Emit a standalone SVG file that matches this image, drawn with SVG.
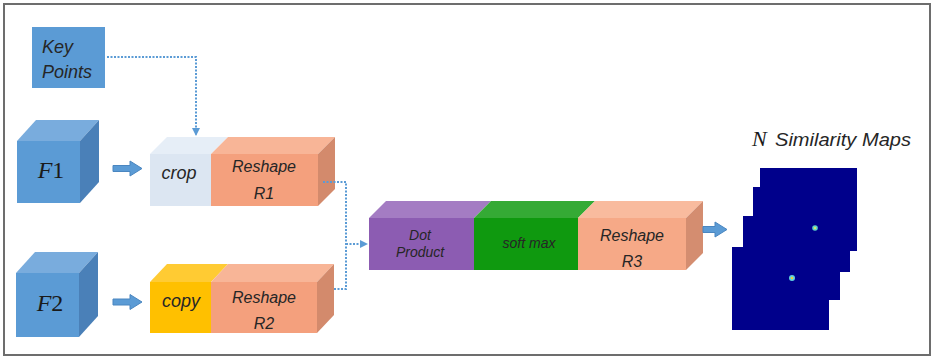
<svg xmlns="http://www.w3.org/2000/svg" width="934" height="357" viewBox="0 0 934 357">
  <style>
    .lbl { font-family: "Liberation Sans", Arial, sans-serif; font-style: italic; fill: #262626; text-anchor: middle; }
    .lft { text-anchor: start; }
    .math { font-family: "Liberation Serif", "DejaVu Serif", serif; fill: #1a1a1a; text-anchor: middle; }
    .it { font-style: italic; }
    .dot { fill: none; stroke: #5b9bd5; stroke-width: 2; stroke-dasharray: 2 1.5; }
    .blk { fill: #5b9bd5; stroke: #4a86c0; stroke-width: 1; }
    .map { fill: #00008b; }
  </style>
  <defs>
    <marker id="tri" markerWidth="8" markerHeight="8" refX="7" refY="4" orient="auto" markerUnits="userSpaceOnUse">
      <path d="M0,0 L8,4 L0,8 Z" fill="#5b9bd5"/>
    </marker>
  </defs>

  <rect x="0" y="0" width="934" height="357" fill="#ffffff"/>
  <rect x="4" y="4" width="926" height="351" fill="none" stroke="#6d6d6d" stroke-width="2"/>

  <!-- key points box -->
  <g id="keypoints">
    <rect x="32" y="27" width="73" height="61" fill="#5b9bd5"/>
    <text class="lbl lft" x="42" y="53" font-size="18">Key</text>
    <text class="lbl lft" x="42" y="78" font-size="18">Points</text>
  </g>

  <!-- input feature cubes -->
  <g id="f1">
    <path d="M17,141 L36,120 L99,120 L80,141 Z" fill="#79acdd"/>
    <path d="M80,141 L99,120 L99,182 L80,203 Z" fill="#4a80b8"/>
    <rect x="17" y="141" width="63" height="62" fill="#5b9bd5"/>
    <text class="math" x="51" y="178" font-size="24"><tspan class="it">F</tspan>1</text>
  </g>
  <g id="f2">
    <path d="M16,273 L35,252 L98,252 L79,273 Z" fill="#79acdd"/>
    <path d="M79,273 L98,252 L98,316 L79,337 Z" fill="#4a80b8"/>
    <rect x="16" y="273" width="63" height="64" fill="#5b9bd5"/>
    <text class="math" x="50" y="311" font-size="24"><tspan class="it">F</tspan>2</text>
  </g>

  <!-- crop / reshape R1 -->
  <g id="crop">
    <path d="M150,154 L167,137 L228,137 L211,154 Z" fill="#e6eef7"/>
    <rect x="150" y="154" width="61" height="52" fill="#dce6f2"/>
    <text class="lbl" x="179" y="179" font-size="18">crop</text>
  </g>
  <g id="reshape-r1">
    <path d="M211,154 L228,137 L335,137 L318,154 Z" fill="#f8b597"/>
    <path d="M318,154 L335,137 L335,189 L318,206 Z" fill="#d38a6c"/>
    <rect x="211" y="154" width="107" height="52" fill="#f4a07d"/>
    <text class="lbl" x="264" y="172" font-size="16">Reshape</text>
    <text class="lbl" x="264" y="199" font-size="16">R1</text>
  </g>

  <!-- copy / reshape R2 -->
  <g id="copy">
    <path d="M150,282 L167,264 L228,264 L211,282 Z" fill="#ffcb33"/>
    <rect x="150" y="282" width="61" height="51" fill="#ffc000"/>
    <text class="lbl" x="181" y="307" font-size="18">copy</text>
  </g>
  <g id="reshape-r2">
    <path d="M211,282 L228,264 L334,264 L317,282 Z" fill="#f8b597"/>
    <path d="M317,282 L334,264 L334,315 L317,333 Z" fill="#d38a6c"/>
    <rect x="211" y="282" width="106" height="51" fill="#f4a07d"/>
    <text class="lbl" x="264" y="303" font-size="16">Reshape</text>
    <text class="lbl" x="264" y="329" font-size="16">R2</text>
  </g>

  <!-- dot product / softmax / reshape R3 -->
  <g id="dot-product">
    <path d="M369,218 L386,201 L491,201 L474,218 Z" fill="#a47cc3"/>
    <rect x="369" y="218" width="105" height="52" fill="#8c5cb2"/>
    <text class="lbl" x="420" y="240" font-size="14">Dot</text>
    <text class="lbl" x="420" y="257" font-size="14">Product</text>
  </g>
  <g id="softmax">
    <path d="M474,218 L491,201 L595,201 L578,218 Z" fill="#35aa35"/>
    <rect x="474" y="218" width="104" height="52" fill="#0f990f"/>
    <text class="lbl" x="529" y="248" font-size="14">soft max</text>
  </g>
  <g id="reshape-r3">
    <path d="M578,218 L595,201 L703,201 L686,218 Z" fill="#f9bb9e"/>
    <path d="M686,218 L703,201 L703,253 L686,270 Z" fill="#d48d70"/>
    <rect x="578" y="218" width="108" height="52" fill="#f6a987"/>
    <text class="lbl" x="632" y="241" font-size="16">Reshape</text>
    <text class="lbl" x="632" y="267" font-size="16">R3</text>
  </g>

  <!-- similarity maps -->
  <g id="similarity-maps">
    <text class="math it" x="752" y="146" font-size="22" style="text-anchor:start">N</text>
    <text class="lbl lft" x="775" y="146" font-size="18" textLength="136" lengthAdjust="spacingAndGlyphs">Similarity Maps</text>
    <rect class="map" x="760" y="168" width="97" height="83"/>
    <rect class="map" x="753" y="187" width="97" height="85"/>
    <rect class="map" x="743" y="216" width="97" height="84"/>
    <rect class="map" x="732" y="247" width="97" height="83"/>
    <circle cx="815" cy="228" r="2.8" fill="#5fd0c8"/>
    <circle cx="815" cy="228" r="1.2" fill="#d8e86a"/>
    <circle cx="792" cy="278" r="3" fill="#5fd0e0"/>
    <circle cx="792" cy="278" r="1.3" fill="#e8d040"/>
  </g>

  <!-- connectors -->
  <g id="connectors">
    <path class="blk" d="M113,165.5 L130,165.5 L130,161 L142,168.5 L130,176 L130,171.5 L113,171.5 Z"/>
    <path class="blk" d="M113,299 L130,299 L130,294.5 L142,302 L130,309.5 L130,305 L113,305 Z"/>
    <path class="blk" d="M703,226.5 L715,226.5 L715,222 L727,229.5 L715,237 L715,232.5 L703,232.5 Z"/>
    <path class="dot" d="M107,57 L196,57 L196,135" marker-end="url(#tri)"/>
    <path class="dot" d="M323,182 L346,182 L346,289 L334,289"/>
    <path class="dot" d="M346,244 L367,244" marker-end="url(#tri)"/>
  </g>
</svg>
